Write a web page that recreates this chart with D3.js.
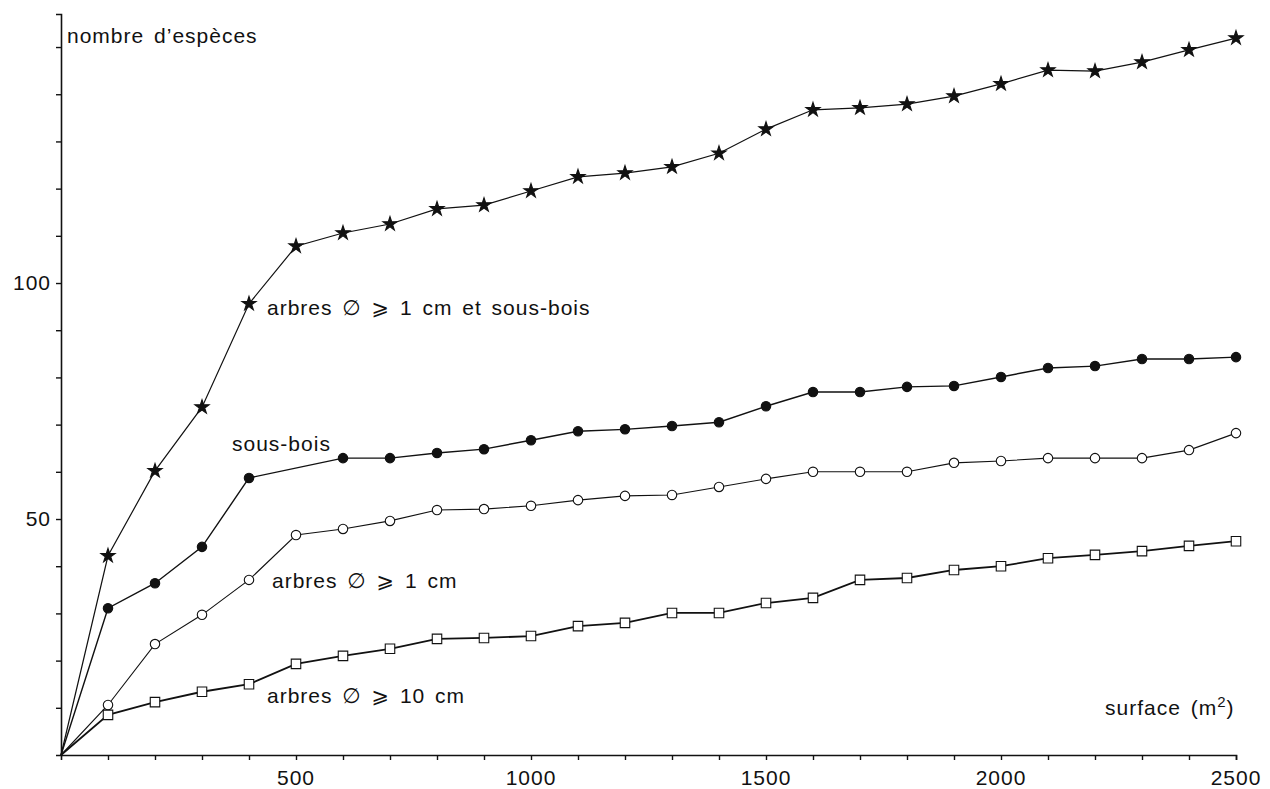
<!doctype html>
<html>
<head>
<meta charset="utf-8">
<title>nombre d'espèces</title>
<script src="https://d3js.org/d3.v7.min.js"></script>
<style>
  body { margin: 0; background: #fff; }
  text { font-family: "Liberation Sans", Arial, "DejaVu Sans", sans-serif; fill: #111; }
</style>
</head>
<body>
<svg width="1270" height="789"></svg>
<script>
// surface (m2)
var surface = [100, 200, 300, 400, 500, 600, 700, 800, 900, 1000, 1100, 1200, 1300,
               1400, 1500, 1600, 1700, 1800, 1900, 2000, 2100, 2200, 2300, 2400, 2500];

// arbres >= 1 cm et sous-bois (stars)
var totalEtSousBois = [42.2, 60.2, 73.7, 95.6, 107.8, 110.6, 112.5, 115.7, 116.5, 119.5, 122.5, 123.3, 124.6,
                       127.5, 132.6, 136.7, 137.1, 137.9, 139.6, 142.2, 145.1, 144.9, 146.8, 149.4, 151.9];
// sous-bois (filled circles), no point at 500
var sousBois = [31.1, 36.4, 44.1, 58.7, null, 62.9, 62.9, 64.0, 64.8, 66.7, 68.6, 69.0, 69.7,
                70.5, 73.9, 76.9, 76.9, 78.0, 78.2, 80.1, 82.0, 82.4, 83.9, 83.9, 84.3];
// arbres >= 1 cm (open circles)
var arbres1 = [10.6, 23.5, 29.7, 37.1, 46.6, 47.9, 49.6, 51.9, 52.1, 52.8, 54.0, 54.9, 55.1,
               56.8, 58.5, 60.0, 60.0, 60.0, 61.9, 62.3, 62.9, 62.9, 62.9, 64.6, 68.2];
// arbres >= 10 cm (squares)
var arbres10 = [8.5, 11.2, 13.4, 15.0, 19.3, 21.0, 22.5, 24.6, 24.8, 25.2, 27.3, 28.0, 30.1,
                30.1, 32.2, 33.3, 37.1, 37.5, 39.2, 40.0, 41.7, 42.4, 43.2, 44.3, 45.3];

var xTickLabels = [500, 1000, 1500, 2000, 2500];
var yTickLabels = [50, 100];

var svg = d3.select("svg");

var x = d3.scaleLinear().domain([0, 2500]).range([61, 1236]);
var y = d3.scaleLinear().domain([0, 157]).range([755, 14]);

// axes
var xAxis = svg.append("g")
    .attr("transform", "translate(0," + y(0) + ")")
    .call(d3.axisBottom(x).tickValues(d3.range(100, 2600, 100)).tickSize(5).tickFormat(""));
var yAxis = svg.append("g")
    .attr("transform", "translate(" + x(0) + ",0)")
    .call(d3.axisLeft(y).tickValues(d3.range(10, 160, 10)).tickSize(5).tickFormat(""));

[xAxis, yAxis].forEach(function(a) {
  a.select(".domain").attr("stroke", "#111").attr("stroke-width", 1.6);
  a.selectAll(".tick line").attr("stroke", "#111").attr("stroke-width", 1.4);
});

svg.append("g").selectAll("text")
  .data(xTickLabels)
  .enter().append("text")
    .attr("x", function(d) { return x(d); })
    .attr("y", y(0) + 30)
    .attr("text-anchor", "middle")
    .style("font-size", "21px")
    .style("letter-spacing", "1px")
    .text(function(d) { return d; });

svg.append("g").selectAll("text")
  .data(yTickLabels)
  .enter().append("text")
    .attr("x", x(0) - 10)
    .attr("y", function(d) { return y(d) + 7; })
    .attr("text-anchor", "end")
    .style("font-size", "21px")
    .style("letter-spacing", "1px")
    .text(function(d) { return d; });

// series
function pts(vals) {
  var p = [{s: 0, v: 0}];
  vals.forEach(function(v, i) { if (v != null) p.push({s: surface[i], v: v}); });
  return p;
}

var line = d3.line()
    .x(function(d) { return x(d.s); })
    .y(function(d) { return y(d.v); });

var series = [
  {vals: totalEtSousBois, sym: d3.symbolStar, size: 62, fill: "#111", w: 1.2},
  {vals: sousBois, sym: d3.symbolCircle, size: 70, fill: "#111", w: 1.4},
  {vals: arbres1, sym: d3.symbolCircle, size: 70, fill: "#fff", w: 1.1},
  {vals: arbres10, sym: d3.symbolSquare, size: 90, fill: "#fff", w: 1.8}
];

series.forEach(function(s) {
  var data = pts(s.vals);
  svg.append("path")
    .datum(data)
    .attr("fill", "none")
    .attr("stroke", "#111")
    .attr("stroke-width", s.w)
    .attr("d", line);
  svg.append("g").selectAll("path")
    .data(data.slice(1))
    .enter().append("path")
      .attr("transform", function(d) { return "translate(" + x(d.s) + "," + y(d.v) + ")"; })
      .attr("d", d3.symbol().type(s.sym).size(s.size))
      .attr("fill", s.fill)
      .attr("stroke", "#111")
      .attr("stroke-width", 1.1);
});

// labels
function label(txt, px, py) {
  return svg.append("text")
    .attr("x", px).attr("y", py)
    .style("font-size", "21px")
    .style("letter-spacing", "1px")
    .style("word-spacing", "3px")
    .text(txt);
}
label("nombre d\u2019espèces", 67, 43);
label("arbres \u2205 \u2A7E 1 cm et sous-bois", 267, 315);
label("sous-bois", 232, 451);
label("arbres \u2205 \u2A7E 1 cm", 272, 588);
label("arbres \u2205 \u2A7E 10 cm", 267, 703);
var sf = label("surface (m", 1105, 715);
sf.append("tspan").attr("dy", -8).style("font-size", "15px").text("2");
sf.append("tspan").attr("dy", 8).text(")");
</script>
</body>
</html>
